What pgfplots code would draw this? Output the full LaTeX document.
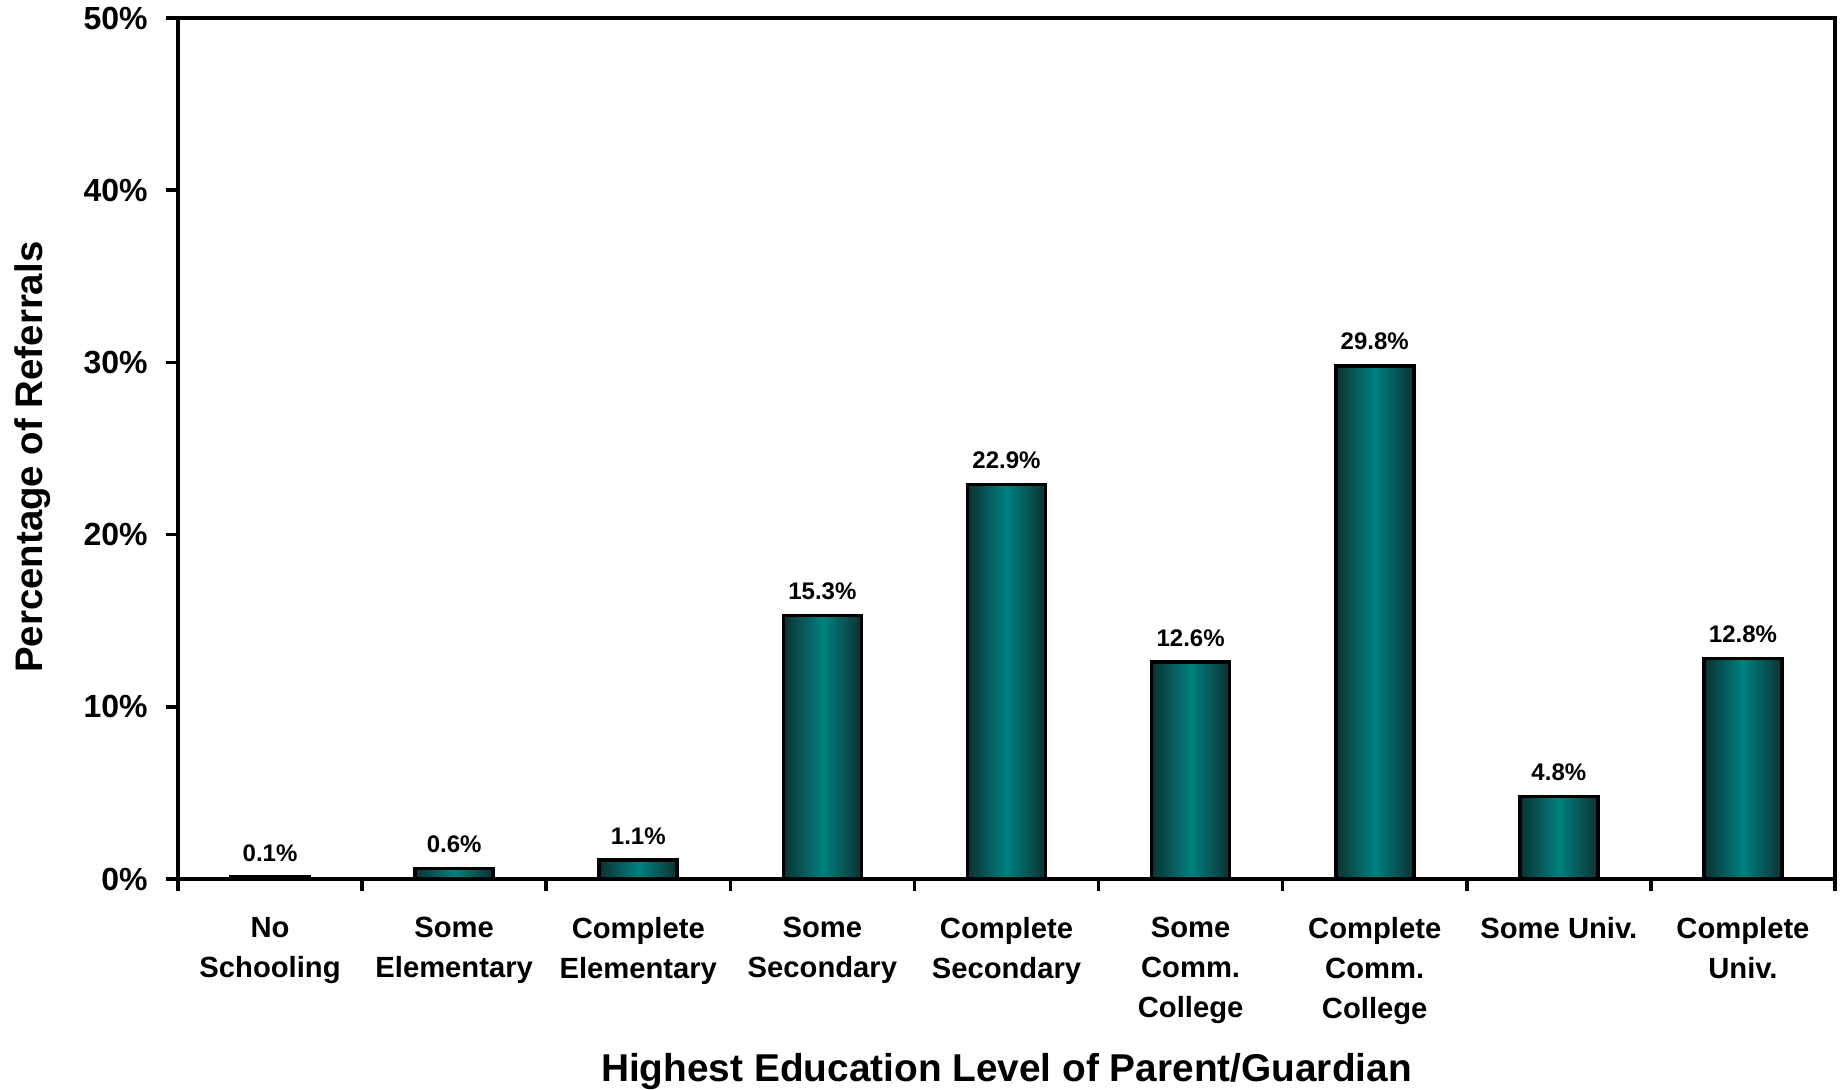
\documentclass[border=0pt]{standalone}
\usepackage{fontspec}
\setmainfont{Liberation Sans}
\usepackage{pgfplots}
\pgfplotsset{compat=1.18}
\definecolor{tdark}{RGB}{12,50,50}
\definecolor{tmid}{RGB}{0,128,126}
\pgfplotsset{tealbar/.style={draw=black, line width=1.8pt, left color=tdark, right color=tdark, middle color=tmid, bar shift=0pt}}
\begin{document}
\begin{tikzpicture}[font=\bfseries]
\useasboundingbox (-89pt,-105pt) rectangle (833.5pt,439.5pt);
\begin{axis}[
  at={(0,0)}, anchor=south west,
  scale only axis, width=828.5pt, height=430.5pt,
  xmin=-0.5, xmax=8.5, ymin=0, ymax=50,
  /pgf/number format/assume math mode=true,
  axis line style={line width=1.8pt},
  tick style={line width=1.8pt, black},
  tick align=outside,
  xtick pos=left, ytick pos=left,
  major tick length=6pt,
  ytick={0,10,...,50},
  yticklabels={0\%,10\%,20\%,30\%,40\%,50\%},
  yticklabel style={font=\fontsize{16}{19}\selectfont\bfseries, inner sep=0pt, anchor=east, xshift=-9pt},
  xtick={-0.5,0.5,...,8.5},
  xticklabels={},
  extra x ticks={0,1,2,3,4,5,6,7,8},
  extra x tick labels={{No\\Schooling},{Some\\Elementary},{Complete\\Elementary},{Some\\Secondary},{Complete\\Secondary},{Some\\Comm.\\College},{Complete\\Comm.\\College},{Some Univ.},{Complete\\Univ.}},
  extra x tick style={major tick length=0pt, tick style={draw=none},
     tick label style={font=\fontsize{14.6}{20}\selectfont\bfseries, align=center, inner sep=0pt, anchor=north, yshift=-19pt}},
  ylabel={Percentage of Referrals},
  ylabel style={font=\fontsize{19.2}{22}\selectfont\bfseries, at={(axis description cs:-0.0875,0.49)}, anchor=center},
  xlabel={Highest Education Level of Parent/Guardian},
  xlabel style={font=\fontsize{19.4}{22}\selectfont\bfseries, at={(axis description cs:0.5,-0.224)}, anchor=center},
  ybar, bar width=39pt,
  nodes near coords={\pgfmathprintnumber[fixed,fixed zerofill,precision=1]{\pgfplotspointmeta}\%},
  nodes near coords style={font=\fontsize{12}{14}\selectfont\bfseries, text=black, inner sep=0pt, anchor=south, yshift=7pt},
]
\addplot[tealbar] coordinates {(0,0.1)};
\addplot[tealbar] coordinates {(1,0.6)};
\addplot[tealbar] coordinates {(2,1.1)};
\addplot[tealbar] coordinates {(3,15.3)};
\addplot[tealbar] coordinates {(4,22.9)};
\addplot[tealbar] coordinates {(5,12.6)};
\addplot[tealbar] coordinates {(6,29.8)};
\addplot[tealbar] coordinates {(7,4.8)};
\addplot[tealbar] coordinates {(8,12.8)};
\end{axis}
\end{tikzpicture}
\end{document}
